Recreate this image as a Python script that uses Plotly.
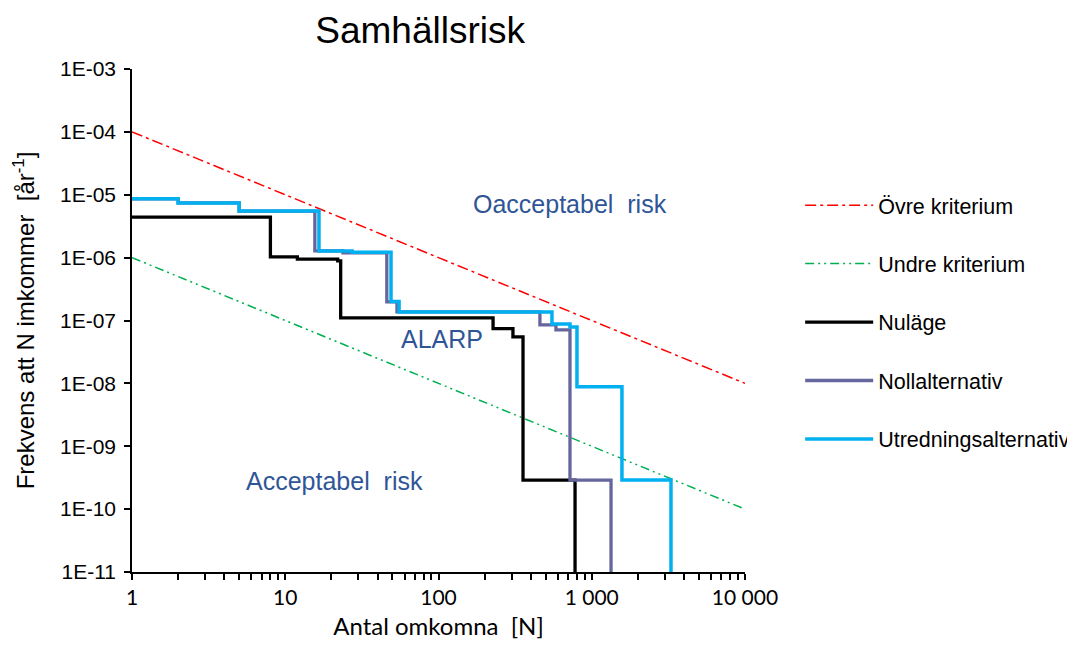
import math
import plotly.graph_objects as go

# ---- data ----
N_crit = [1, 10000]
F_upper = [1e-4, 1e-8]
F_lower = [1e-6, 1e-10]

N_nulage = [1, 8, 12, 22, 23, 227, 306, 356, 778]
F_nulage = [4.4e-6, 1.03e-6, 9.5e-7, 8.9e-7, 1.1e-7, 7.4e-8, 5.5e-8, 2.9e-10, 1e-12]

N_noll = [1, 2, 5, 15.6, 23.8, 46, 53.6, 459, 584, 721, 1336]
F_noll = [8.6e-6, 7.4e-6, 5.5e-6, 1.28e-6, 1.19e-6, 1.98e-7, 1.37e-7, 8.5e-8, 7.1e-8, 2.9e-10, 1e-12]

N_utr = [1, 2, 5, 16.6, 27.3, 49, 55.3, 550, 721, 801, 1574, 3289]
F_utr = [8.6e-6, 7.4e-6, 5.5e-6, 1.28e-6, 1.22e-6, 2.0e-7, 1.37e-7, 8.8e-8, 7.9e-8, 8.8e-9, 2.9e-10, 1e-12]

x_tickvals = [1, 10, 100, 1000, 10000]
x_ticktext = ["1", "10", "100", "1 000", "10 000"]
y_tickvals = [1e-3, 1e-4, 1e-5, 1e-6, 1e-7, 1e-8, 1e-9, 1e-10, 1e-11]
y_ticktext = ["1E-03", "1E-04", "1E-05", "1E-06", "1E-07", "1E-08", "1E-09", "1E-10", "1E-11"]
x_minor = [m * 10 ** d for d in range(4) for m in range(2, 10)]

region_labels = ["Oacceptabel  risk", "ALARP", "Acceptabel  risk"]
region_N = [721, 105, 21.1]
region_F = [7.1e-6, 5.1e-8, 2.8e-10]

# ---- figure ----
fig = go.Figure()
fig.add_trace(go.Scatter(x=N_crit, y=F_upper, mode="lines", name="Övre kriterium",
                         legendgroup="a",
                         line=dict(color="#FF0000", width=1.5, dash="11px,4px,3px,4px")))
fig.add_trace(go.Scatter(x=N_crit, y=F_lower, mode="lines", name="Undre kriterium",
                         legendgroup="b",
                         line=dict(color="#00B050", width=1.5, dash="9px,4px,2px,4px,2px,4px")))
fig.add_trace(go.Scatter(x=N_nulage, y=F_nulage, mode="lines", name="Nuläge",
                         legendgroup="c",
                         line=dict(color="#000000", width=3.3, shape="hv")))
fig.add_trace(go.Scatter(x=N_noll, y=F_noll, mode="lines", name="Nollalternativ",
                         legendgroup="d",
                         line=dict(color="#66669E", width=3.3, shape="hv")))
fig.add_trace(go.Scatter(x=N_utr, y=F_utr, mode="lines", name="Utredningsalternativ",
                         legendgroup="e",
                         line=dict(color="#00B0F0", width=3.5, shape="hv")))

for t, xn, yf in zip(region_labels, region_N, region_F):
    fig.add_annotation(x=math.log10(xn), y=math.log10(yf), xref="x", yref="y", text=t,
                       showarrow=False,
                       font=dict(family="Liberation Sans, Arial", size=25, color="#2F5597"),
                       xanchor="center", yanchor="middle")

fig.update_layout(
    width=1067, height=640,
    margin=dict(l=124, r=330, t=61, b=76, autoexpand=False),
    paper_bgcolor="white", plot_bgcolor="white",
    title=dict(text="Samhällsrisk", x=0.47, xref="paper", xanchor="center",
               y=1 - 22 / 640, yref="container", yanchor="middle",
               font=dict(family="Liberation Sans, Arial", size=37, color="black")),
    showlegend=True,
    legend=dict(x=1.09, y=0.77, xanchor="left", yanchor="top",
                font=dict(family="Liberation Sans, Arial", size=21.5, color="black"),
                itemwidth=68, tracegroupgap=27.5, bgcolor="rgba(0,0,0,0)"),
    font=dict(family="Liberation Sans, Arial", color="black"),
)

fig.update_xaxes(type="log", range=[0, 4], showline=True, linecolor="black", linewidth=1.5,
                 showgrid=False, zeroline=False, mirror=False, automargin=False,
                 tickmode="array", tickvals=x_tickvals, ticktext=x_ticktext,
                 ticks="outside", ticklen=6, tickwidth=1.5, tickcolor="black",
                 tickfont=dict(family="Lato, Liberation Sans", size=21, color="black"),
                 minor=dict(tickmode="array", tickvals=x_minor, ticks="outside",
                            ticklen=6, tickwidth=1.5, tickcolor="black", showgrid=False),
                 title=dict(text="Antal omkomna  [N]", standoff=10,
                            font=dict(family="Lato, Liberation Sans", size=24, color="black")))
fig.update_yaxes(type="log", range=[-11, -3], showline=True, linecolor="black", linewidth=1.5,
                 showgrid=False, zeroline=False, mirror=False, automargin=False,
                 tickmode="array", tickvals=y_tickvals, ticktext=y_ticktext,
                 ticks="outside", ticklen=6, tickwidth=1.5, tickcolor="black",
                 ticklabelstandoff=4,
                 tickfont=dict(family="Liberation Sans, Arial", size=21, color="black"),
                 title=dict(text="Frekvens att N imkommer  [år<sup>-1</sup>]", standoff=19,
                            font=dict(family="Liberation Sans, Arial", size=24, color="black")))

fig.write_html("out.html")
